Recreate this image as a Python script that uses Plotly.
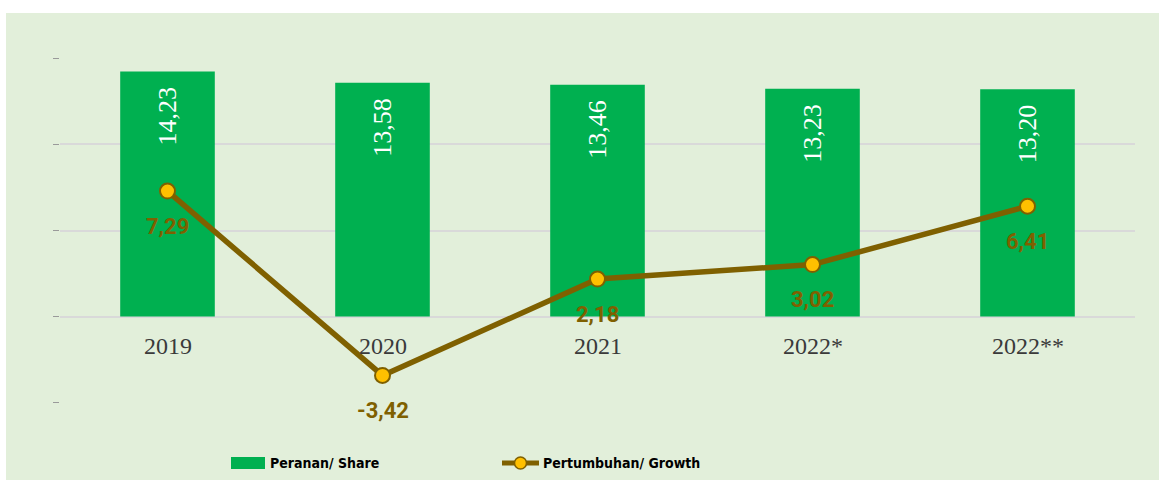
import plotly.graph_objects as go

categories = ["2019", "2020", "2021", "2022*", "2022**"]
share = [14.23, 13.58, 13.46, 13.23, 13.20]
growth = [7.29, -3.42, 2.18, 3.02, 6.41]
share_labels = ["14,23", "13,58", "13,46", "13,23", "13,20"]
growth_labels = ["7,29", "-3,42", "2,18", "3,02", "6,41"]
legend_names = ["Peranan/ Share", "Pertumbuhan/ Growth"]

W, H = 1159, 480
ML, MR, MT, MB = 60, 24, 58, 77
PW, PH = W - ML - MR, H - MT - MB

BG = "#E2EFDA"
GREEN = "#00B050"
BROWN = "#7F6000"
GOLD = "#FFC000"


def px(x):
    return (x - ML) / PW


def py(y):
    return (H - MB - y) / PH


fig = go.Figure()
fig.add_trace(go.Bar(
    x=categories, y=share, name=legend_names[0],
    marker=dict(color=GREEN, line=dict(width=0)),
    width=0.44, showlegend=False, hoverinfo="skip",
))
fig.add_trace(go.Scatter(
    x=categories, y=growth, name=legend_names[1], mode="lines+markers",
    line=dict(color=BROWN, width=5.5),
    marker=dict(size=15, color=GOLD, line=dict(color=BROWN, width=2)),
    showlegend=False, hoverinfo="skip",
))

annotations = []
for i, (v, t) in enumerate(zip(share, share_labels)):
    annotations.append(dict(
        x=i, y=v, text=t, showarrow=False, textangle=-90,
        yanchor="top", xanchor="center", yshift=-13,
        font=dict(family="Liberation Serif", size=26, color="white"),
    ))
for i, (v, t) in enumerate(zip(growth, growth_labels)):
    annotations.append(dict(
        x=i, y=v, text="<b>" + t + "</b>", showarrow=False,
        yanchor="middle", xanchor="center", yshift=-35,
        font=dict(family="Roboto", size=22, color=BROWN),
    ))
for i, c in enumerate(categories):
    annotations.append(dict(
        x=i, y=0, text=c, showarrow=False,
        yanchor="middle", xanchor="center", yshift=-29,
        font=dict(family="Liberation Serif", size=24, color="#3A3A3A"),
    ))

# custom legend
legend_font = dict(family="DejaVu Sans Condensed, Roboto", size=14, color="#000000")
annotations.append(dict(
    xref="paper", yref="paper", x=px(268), y=py(463), text="<b>" + legend_names[0] + "</b>",
    showarrow=False, xanchor="left", yanchor="middle", font=legend_font,
))
annotations.append(dict(
    xref="paper", yref="paper", x=px(541), y=py(463), text="<b>" + legend_names[1] + "</b>",
    showarrow=False, xanchor="left", yanchor="middle", font=legend_font,
))

shapes = [
    dict(type="rect", xref="paper", yref="paper", x0=px(0), x1=px(W), y0=py(0), y1=py(13),
         fillcolor="white", line=dict(width=0), layer="below"),
    dict(type="rect", xref="paper", yref="paper", x0=px(0), x1=px(6), y0=py(0), y1=py(H),
         fillcolor="white", line=dict(width=0), layer="below"),
    dict(type="rect", xref="paper", yref="paper", x0=px(231), x1=px(265), y0=py(469), y1=py(457),
         fillcolor=GREEN, line=dict(width=0)),
    dict(type="line", xref="paper", yref="paper", x0=px(502), x1=px(539), y0=py(463), y1=py(463),
         line=dict(color=BROWN, width=5)),
    dict(type="circle", xref="paper", yref="paper", x0=px(514.5), x1=px(526.5), y0=py(469), y1=py(457),
         fillcolor=GOLD, line=dict(color=BROWN, width=1.5)),
]

fig.update_layout(
    width=W, height=H,
    margin=dict(l=ML, r=MR, t=MT, b=MB, pad=0),
    paper_bgcolor=BG, plot_bgcolor="rgba(0,0,0,0)",
    annotations=annotations, shapes=shapes,
    xaxis=dict(
        type="category", categoryorder="array", categoryarray=categories,
        range=[-0.5, len(categories) - 0.5],
        showgrid=False, showline=False, zeroline=False, ticks="",
        showticklabels=False,
    ),
    yaxis=dict(
        range=[-5.02, 15.02], dtick=5, tick0=0,
        showgrid=True, gridcolor="#D9D9D9", gridwidth=2,
        zeroline=True, zerolinecolor="#D9D9D9", zerolinewidth=2,
        showticklabels=False, ticks="outside", ticklen=6, tickcolor="#9A9A9A", tickwidth=1,
        showline=False,
    ),
)

fig.write_html(
    "out.html",
    config={"displayModeBar": False},
    post_script="document.body.style.margin='0';document.body.style.overflow='hidden';",
)
